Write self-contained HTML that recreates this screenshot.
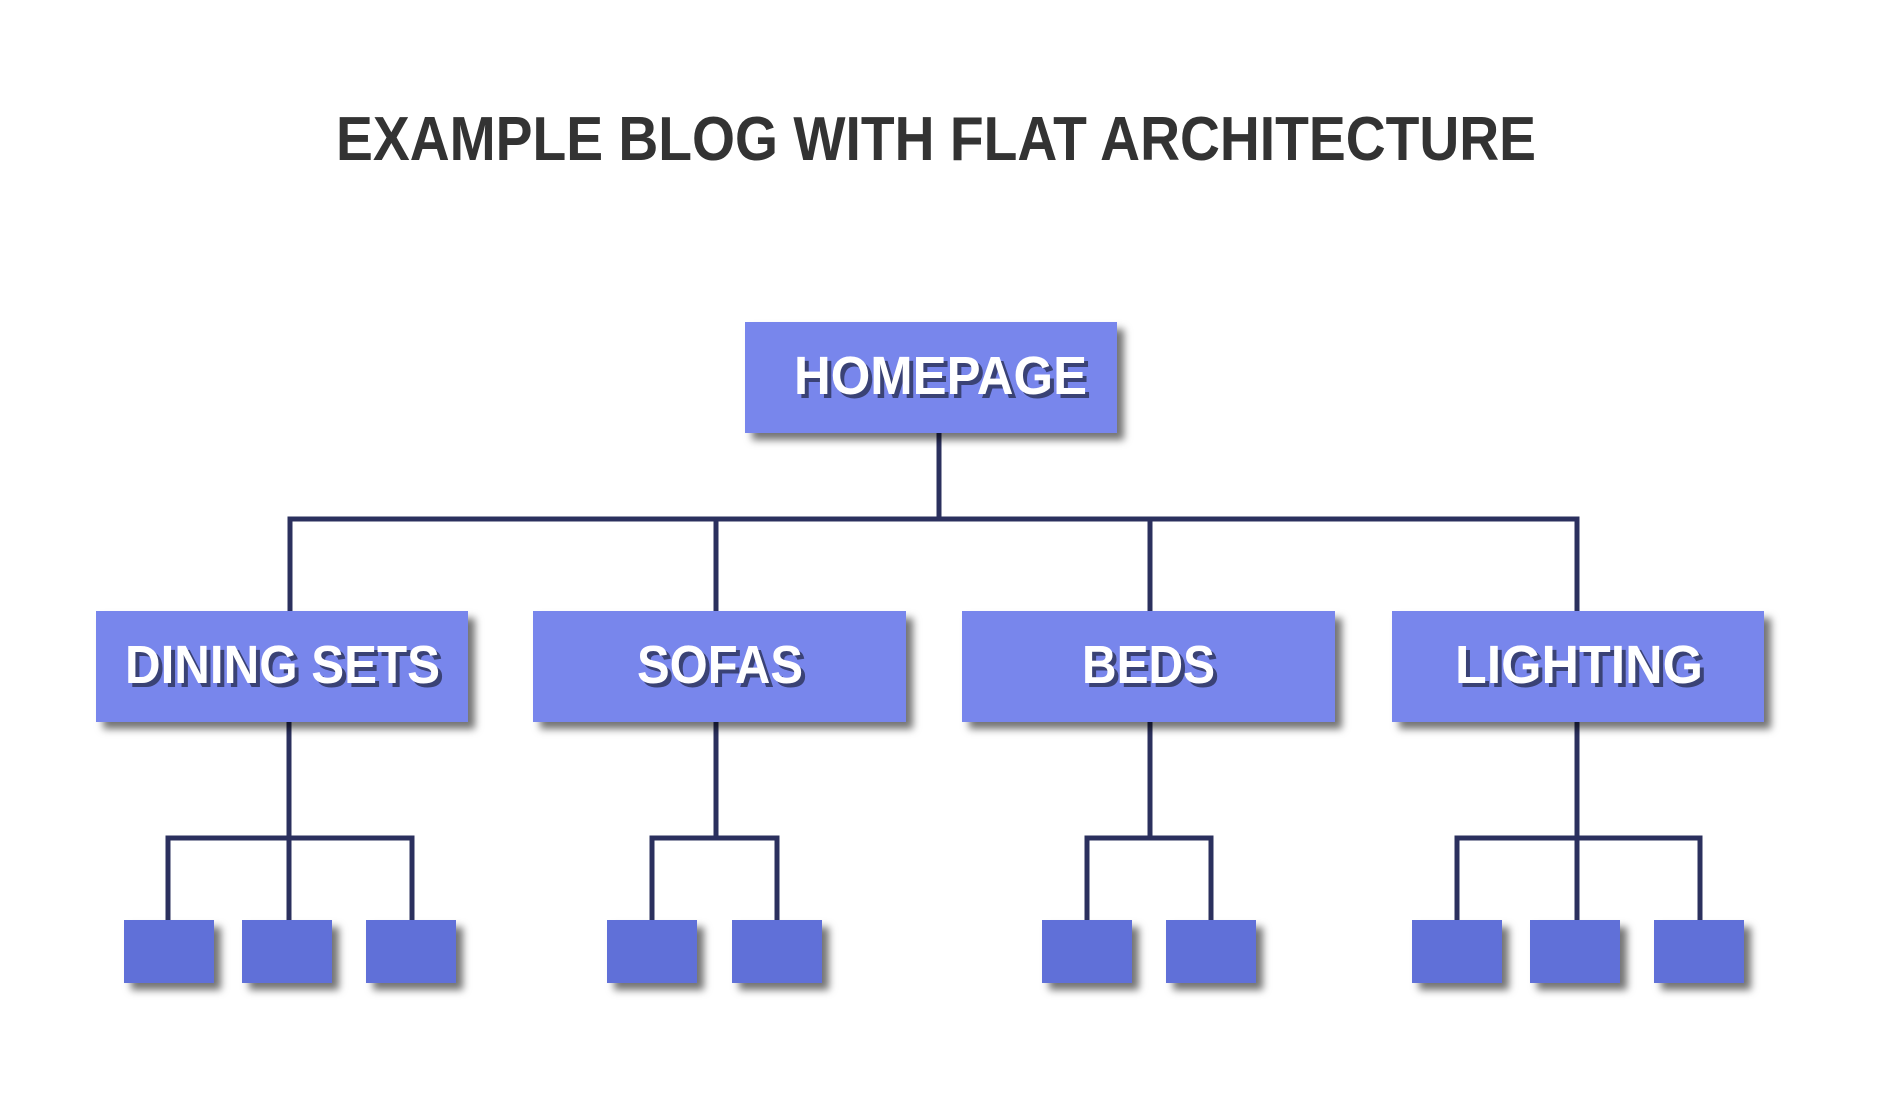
<!DOCTYPE html>
<html><head><meta charset="utf-8"><style>
html,body{margin:0;padding:0;background:#fff;}
svg{display:block;}
</style></head><body>
<svg width="1879" height="1106" viewBox="0 0 1879 1106" xmlns="http://www.w3.org/2000/svg">
<defs>
<filter id="sh" x="-20%" y="-20%" width="150%" height="160%">
<feDropShadow dx="7" dy="7" stdDeviation="4" flood-color="#000" flood-opacity="0.55"/>
</filter>
</defs>
<rect width="1879" height="1106" fill="#fff"/>
<text x="936" y="160" text-anchor="middle" font-family="Liberation Sans, sans-serif" font-weight="bold" font-size="62" fill="#333" textLength="1200" lengthAdjust="spacingAndGlyphs">EXAMPLE BLOG WITH FLAT ARCHITECTURE</text>
<g stroke="#2b305e" stroke-width="5" fill="none">
<line x1="939" y1="433" x2="939" y2="519"/>
<polyline points="290,611 290,519 1577,519 1577,611"/>
<line x1="716" y1="519" x2="716" y2="611"/>
<line x1="1150" y1="519" x2="1150" y2="611"/>
<line x1="289" y1="722" x2="289" y2="920"/>
<polyline points="168,920 168,838 412,838 412,920"/>
<line x1="716" y1="722" x2="716" y2="838"/>
<polyline points="652,920 652,838 777,838 777,920"/>
<line x1="1150" y1="722" x2="1150" y2="838"/>
<polyline points="1087,920 1087,838 1211,838 1211,920"/>
<line x1="1577" y1="722" x2="1577" y2="920"/>
<polyline points="1457,920 1457,838 1700,838 1700,920"/>
</g>
<g fill="#7886ec" filter="url(#sh)">
<rect x="745" y="322" width="372" height="111"/>
<rect x="96" y="611" width="372" height="111"/>
<rect x="533" y="611" width="373" height="111"/>
<rect x="962" y="611" width="373" height="111"/>
<rect x="1392" y="611" width="372" height="111"/>
</g>
<g fill="#6070d8" filter="url(#sh)">
<rect x="124" y="920" width="90" height="63"/>
<rect x="242" y="920" width="90" height="63"/>
<rect x="366" y="920" width="90" height="63"/>
<rect x="607" y="920" width="90" height="63"/>
<rect x="732" y="920" width="90" height="63"/>
<rect x="1042" y="920" width="90" height="63"/>
<rect x="1166" y="920" width="90" height="63"/>
<rect x="1412" y="920" width="90" height="63"/>
<rect x="1530" y="920" width="90" height="63"/>
<rect x="1654" y="920" width="90" height="63"/>
</g>
<g font-family="Liberation Sans, sans-serif" font-weight="bold" font-size="54">
<g fill="#3a4275" transform="translate(4,4)">
<text x="794" y="394" textLength="293" lengthAdjust="spacingAndGlyphs">HOMEPAGE</text>
<text x="125" y="683" textLength="315" lengthAdjust="spacingAndGlyphs">DINING SETS</text>
<text x="637" y="683" textLength="166" lengthAdjust="spacingAndGlyphs">SOFAS</text>
<text x="1082" y="683" textLength="133" lengthAdjust="spacingAndGlyphs">BEDS</text>
<text x="1455" y="683" textLength="248" lengthAdjust="spacingAndGlyphs">LIGHTING</text>
</g>
<g fill="#fff">
<text x="794" y="394" textLength="293" lengthAdjust="spacingAndGlyphs">HOMEPAGE</text>
<text x="125" y="683" textLength="315" lengthAdjust="spacingAndGlyphs">DINING SETS</text>
<text x="637" y="683" textLength="166" lengthAdjust="spacingAndGlyphs">SOFAS</text>
<text x="1082" y="683" textLength="133" lengthAdjust="spacingAndGlyphs">BEDS</text>
<text x="1455" y="683" textLength="248" lengthAdjust="spacingAndGlyphs">LIGHTING</text>
</g>
</g>
</svg>
</body></html>
